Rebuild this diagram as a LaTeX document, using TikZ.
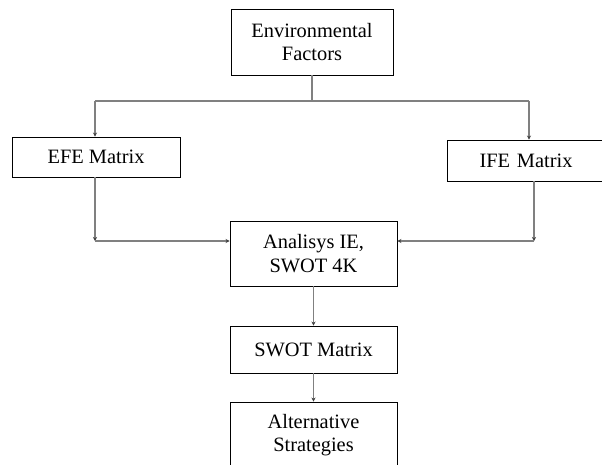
\documentclass[tikz,border=0pt]{standalone}
\usepackage{fontspec}
\setmainfont{Liberation Serif}
\usetikzlibrary{arrows.meta}
\begin{document}
\begin{tikzpicture}[x=1pt,y=1pt,
  box/.style={draw=black, line width=0.9pt, fill=white, inner sep=0pt, align=center,
    font=\fontsize{20.4}{23.5}\selectfont},
  conn/.style={draw=black!50, line width=1.4pt},
  arr/.style={conn, -{Stealth[length=4pt,width=4pt,color=black!75]}}]
\clip (0,0) rectangle (602,-465);
\fill[white] (0,0) rectangle (602,-465);
% boxes (centres and sizes in pixels of the reference)
\node[box, minimum width=162, minimum height=66] (env) at (312,-42) {Environmental\\Factors};
\node[box, minimum width=168, minimum height=40] (efe) at (96,-157) {EFE Matrix};
\node[box, minimum width=158, minimum height=41, text width=150] (ife) at (526,-160.5) {IFE Matrix};
\node[box, minimum width=167, minimum height=65] (ana) at (313.5,-253.5) {Analisys IE,\\SWOT 4K};
\node[box, minimum width=167, minimum height=47] (swot) at (313.5,-349.5) {SWOT Matrix};
\node[box, minimum width=167, minimum height=66] (alt) at (313.5,-435) {Alternative\\Strategies};
% junction points
\coordinate (j) at (312,-101);
\coordinate (jl) at (95,-101);
\coordinate (jr) at (529,-101);
\coordinate (bl) at (95,-241);
\coordinate (br) at (534,-241);
% connectors
\draw[conn] (env.south) -- (j);
\draw[conn] (jl) -- (jr);
\draw[arr] (jl) -- (jl |- efe.north);
\draw[arr] (jr) -- (jr |- ife.north);
\draw[arr] (bl |- efe.south) -- (bl);
\draw[arr] (bl) -- (ana.west |- bl);
\draw[arr] (br |- ife.south) -- (br);
\draw[arr] (br) -- (ana.east |- br);
\draw[arr] (ana.south) -- (swot.north);
\draw[arr] (swot.south) -- (alt.north);
\end{tikzpicture}
\end{document}
